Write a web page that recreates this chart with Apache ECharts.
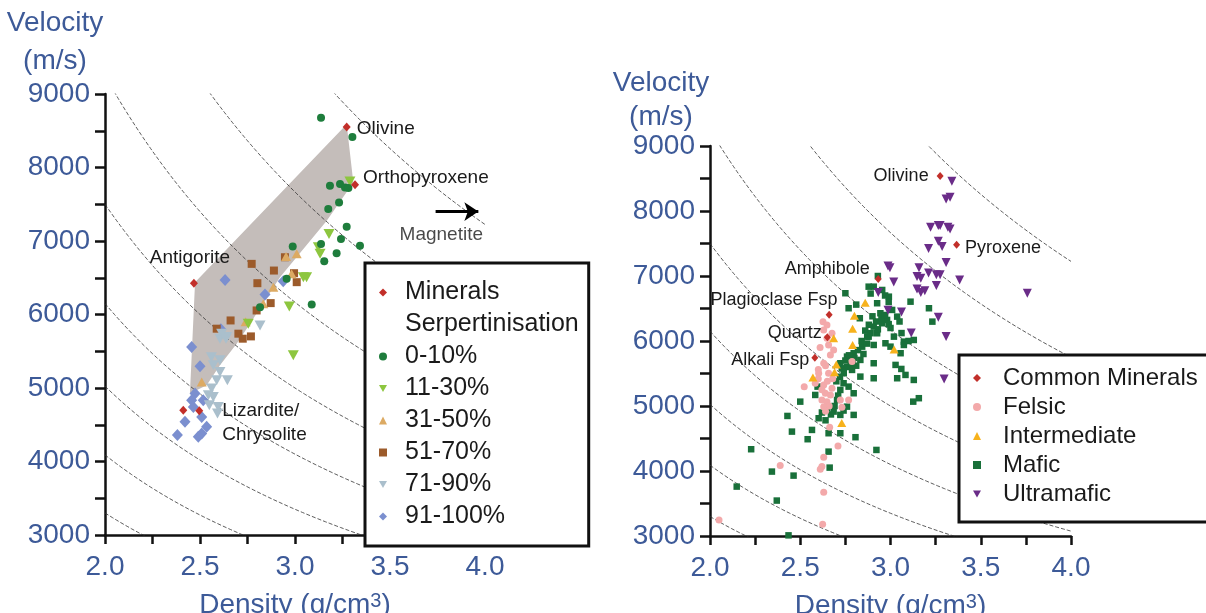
<!DOCTYPE html>
<html>
<head>
<meta charset="utf-8">
<title>Velocity vs density</title>
<script src="https://cdn.jsdelivr.net/npm/echarts@6/dist/echarts.min.js"></script>
<style>
  html, body { margin: 0; padding: 0; background: #fff; }
  #main { width: 1206px; height: 613px; }
</style>
</head>
<body>
<div id="main"></div>
<script>
// ---- data: [density g/cm3, velocity m/s] ----
const contourZ = [6600, 8180, 10050, 12300, 15000, 18500, 23000, 28900];

const leftMineralNames = ["Olivine", "Orthopyroxene", "Antigorite", "", "Lizardite/\nChrysolite"];
const leftMinerals = [[3.272, 8552], [3.316, 7765], [2.468, 6426], [2.412, 4698], [2.496, 4689]];

const serpPolygon = [[3.272, 8589], [3.307, 7796], [3.167, 7276], [2.921, 6506], [2.763, 5874],
  [2.693, 5602], [2.605, 5308], [2.535, 5036], [2.447, 4924], [2.474, 6439]];

const serp0to10 = [[3.137, 8678], [3.302, 8416], [3.184, 7752], [3.237, 7775], [3.263, 7729],
  [3.281, 7720], [3.232, 7525], [3.175, 7435], [3.272, 7195], [3.242, 7028], [3.342, 6937],
  [3.137, 6960], [3.219, 6833], [3.154, 6724], [2.988, 6924], [2.956, 6485], [2.816, 6100],
  [3.088, 6137]];
const serp11to30 = [[3.289, 7810], [3.179, 7096], [3.123, 6915], [3.132, 6825], [3.044, 6507],
  [3.061, 6507], [2.97, 6110], [2.754, 5875], [2.991, 5445]];
const serp31to50 = [[2.953, 6788], [3.009, 6825], [2.982, 6553], [2.886, 6372], [2.833, 6146],
  [2.509, 5082], [2.74, 5900]];
const serp51to70 = [[2.772, 6689], [2.889, 6598], [2.802, 6426], [2.947, 6779], [2.995, 6562],
  [3.009, 6440], [2.872, 6155], [2.798, 6055], [2.661, 5919], [2.588, 5807], [2.702, 5739],
  [2.725, 5671], [2.768, 5702]];
const serp71to90 = [[2.816, 5852], [2.605, 5671], [2.64, 5693], [2.614, 5739], [2.637, 5671],
  [2.57, 5309], [2.605, 5218], [2.644, 5105], [2.588, 5105], [2.561, 4993], [2.544, 4902],
  [2.57, 4879], [2.549, 4766], [2.596, 4743], [2.592, 4653], [2.605, 5377], [2.56, 5420]];
const serp91to100 = [[2.632, 6471], [2.842, 6272], [2.938, 6453], [2.456, 5557], [2.5, 5295],
  [2.474, 4925], [2.517, 4834], [2.465, 4743], [2.509, 4607], [2.421, 4540], [2.535, 4472],
  [2.509, 4382], [2.491, 4336], [2.381, 4359], [2.456, 4834], [2.61, 5800]];

const magnetiteText = [[3.77, 7080]];
const magnetiteArrow = [[3.74, 7400], [3.965, 7400]];

const rightMineralNames = ["Olivine", "Pyroxene", "Amphibole", "Plagioclase Fsp", "Quartz", "Alkali Fsp"];
const rightMinerals = [[3.275, 8538], [3.366, 7480], [2.932, 6953], [2.66, 6404], [2.65, 6057], [2.581, 5742]];

const felsic = [[2.626, 6298], [2.648, 6247], [2.63, 6170], [2.676, 6119], [2.648, 6042],
  [2.657, 5939], [2.685, 5862], [2.667, 5785], [2.63, 5658], [2.602, 5504], [2.657, 5504],
  [2.583, 5350], [2.63, 5324], [2.676, 5273], [2.639, 5196], [2.667, 5170], [2.62, 5093],
  [2.648, 5067], [2.63, 4990], [2.522, 5298], [2.787, 5683], [2.722, 5093], [2.768, 5093],
  [2.731, 4981], [2.663, 4674], [2.709, 4386], [2.63, 4212], [2.62, 4068], [2.611, 4028],
  [2.389, 4083], [2.63, 3674], [2.05, 3248], [2.624, 3182], [2.61, 5900], [2.64, 5620],
  [2.6, 5420], [2.65, 5380], [2.62, 5250], [2.66, 5000], [2.64, 4920], [2.6, 5560], [2.68, 5420]];

const intermediate = [[2.86, 6590], [2.80, 6390], [2.79, 6190], [2.685, 6042], [2.79, 5940],
  [3.02, 5870], [2.70, 5640], [2.57, 5440], [2.73, 4740], [2.69, 5520]];

const mafic = [[2.93, 7000], [2.75, 6735], [2.879, 6836], [2.907, 6836], [2.954, 6785],
  [2.991, 6682], [2.768, 6504], [2.926, 6581], [2.944, 6427], [3.009, 6478], [2.907, 6221],
  [2.954, 6273], [2.981, 6324], [3.037, 6375], [2.879, 6067], [2.926, 6119], [3.019, 6067],
  [3.074, 5990], [3.111, 6605], [3.213, 6504], [3.232, 6298], [2.843, 5913], [2.871, 6067],
  [2.907, 5939], [2.972, 5965], [3.0, 5913], [3.074, 5939], [3.056, 5812], [3.129, 6016],
  [3.028, 5632], [3.083, 5478], [3.129, 5401], [3.037, 5427], [2.907, 5658], [2.907, 5427],
  [2.833, 5452], [2.787, 5555], [2.759, 5760], [2.796, 5812], [2.833, 5709], [2.722, 5658],
  [2.741, 5504], [2.768, 5298], [2.796, 5196], [2.722, 5247], [2.704, 5093], [2.759, 4990],
  [2.796, 4863], [2.722, 4863], [2.685, 4914], [2.648, 4966], [2.602, 4812], [2.583, 5170],
  [2.596, 5298], [2.5, 5067], [2.429, 4847], [2.454, 4606], [2.541, 4489], [2.565, 4632],
  [2.657, 4581], [2.722, 4581], [2.806, 4520], [2.922, 4324], [2.657, 4298], [2.663, 4052],
  [2.228, 4335], [1.985, 3929], [2.343, 3991], [2.463, 3929], [2.148, 3760], [2.37, 3545],
  [2.435, 3010], [3.126, 5067], [3.157, 5120], [3.061, 6122],
  [2.90, 6380], [2.92, 6300], [2.95, 6350], [2.97, 6400], [2.99, 6260], [2.88, 6250],
  [2.86, 6160], [2.89, 6120], [2.84, 6000], [2.82, 5860], [2.80, 5740], [2.78, 5650],
  [2.76, 5600], [2.81, 5620], [2.79, 5700], [2.77, 5780], [2.75, 5700], [2.73, 5580],
  [2.72, 5450], [2.70, 5380], [2.74, 5350], [2.71, 5160], [2.69, 5000], [2.74, 4930],
  [2.67, 4870], [2.62, 4900], [2.64, 4780], [2.93, 6180], [3.00, 6200], [3.05, 6300],
  [2.87, 5960], [2.85, 5800], [3.10, 6000], [2.83, 6350], [2.81, 6560], [3.06, 5570],
  [2.97, 6700], [2.89, 6730], [2.99, 6600]];

const ultramafic = [[3.34, 8457], [3.308, 8186], [3.33, 8213], [3.222, 7751], [3.265, 7778],
  [3.275, 7778], [3.318, 7751], [3.33, 7724], [3.211, 7425], [3.265, 7534], [3.286, 7452],
  [3.308, 7208], [2.986, 7154], [2.997, 7127], [3.158, 7127], [3.147, 6991], [3.168, 6964],
  [3.211, 7045], [3.254, 7018], [3.275, 7018], [3.254, 6855], [3.383, 6937], [3.147, 6801],
  [3.168, 6747], [3.19, 6774], [2.932, 6747], [3.018, 6909], [2.986, 6475], [3.061, 6448],
  [3.265, 6367], [3.115, 6122], [3.308, 6068], [3.758, 6736], [3.297, 5416]];

// ---- chart ----
const FONT = "'Liberation Sans', Arial, sans-serif";
const BLUE = "#3d5a98";
const INK = "#111";
const DOWN_TRIANGLE = "path://M0,0L10,0L5,9Z";

let dom = document.getElementById("main");
let myChart = echarts.init(dom, null, { renderer: "canvas" });

function curvePoints(z) {
  // iso-impedance line: velocity = z / density
  let pts = [];
  for (let i = 0; i <= 200; i++) {
    let r = 2 + i * 0.01;
    pts.push([r, z / r]);
  }
  return pts;
}

function contourSeries(gi) {
  return contourZ.map(z => ({
    type: "line",
    xAxisIndex: gi,
    yAxisIndex: gi,
    data: curvePoints(z),
    symbol: "none",
    silent: true,
    z: 2,
    lineStyle: { color: "#333", width: 0.8, type: [4, 2] },
  }));
}

function xAxisCfg(gi) {
  return {
    type: "value",
    gridIndex: gi,
    min: 2,
    max: 4,
    interval: 0.25,
    name: "Density (g/cm{sup|3})",
    nameLocation: "middle",
    nameGap: 56,
    nameTextStyle: {
      color: BLUE, fontSize: 28, fontFamily: FONT,
      rich: { sup: { color: BLUE, fontSize: 20, fontFamily: FONT, verticalAlign: "top", lineHeight: 20 } },
    },
    axisLine: { onZero: false, lineStyle: { color: INK, width: 2.5 } },
    axisTick: { inside: false, length: 9, lineStyle: { color: INK, width: 2.5 } },
    axisLabel: {
      color: BLUE, fontSize: 28, fontFamily: FONT, margin: 18,
      formatter: v => (Math.round(v * 100) % 50 === 0 ? v.toFixed(1) : ""),
    },
    splitLine: { show: false },
  };
}

function yAxisCfg(gi) {
  return {
    type: "value",
    gridIndex: gi,
    min: 3000,
    max: 9000,
    interval: 500,
    axisLine: { show: true, onZero: false, lineStyle: { color: INK, width: 2.5 } },
    axisTick: { show: true, inside: false, length: 10, lineStyle: { color: INK, width: 2.5 } },
    axisLabel: {
      color: BLUE, fontSize: 28, fontFamily: FONT, margin: 15,
      formatter: v => (v % 1000 === 0 ? String(v) : ""),
    },
    splitLine: { show: false },
  };
}

function scatter(name, gi, data, symbol, size, color, rotate, z) {
  return {
    name: name,
    type: "scatter",
    xAxisIndex: gi,
    yAxisIndex: gi,
    data: data,
    symbol: symbol,
    symbolSize: size,
    symbolRotate: rotate || 0,
    itemStyle: { color: color, opacity: 1 },
    z: z || 3,
  };
}

const labelBase = { show: true, color: "#1a1a1a", fontFamily: FONT, formatter: "{b}" };
const leftLabelLayout = [
  { position: "right", distance: 6, offset: [0, 2], fontSize: 19 },
  { position: "right", distance: 4, offset: [0, -7], fontSize: 19 },
  { position: "top", distance: 11, offset: [-4, 0], fontSize: 19 },
  { show: false },
  { position: "right", distance: 19, offset: [0, 12], fontSize: 19, lineHeight: 24, align: "left" },
];
const rightLabelLayout = [
  { position: "left", distance: 8, offset: [0, 0], fontSize: 18 },
  { position: "right", distance: 5, offset: [0, 3], fontSize: 18 },
  { position: "left", distance: 5, offset: [0, -10], fontSize: 18 },
  { position: "left", distance: 0, offset: [12, -15], fontSize: 18 },
  { position: "left", distance: 2, offset: [0, -4], fontSize: 18 },
  { position: "left", distance: 2, offset: [0, 2], fontSize: 18 },
];

function labelled(points, names, layout) {
  return points.map((p, i) => ({
    value: p,
    name: names[i],
    label: Object.assign({}, labelBase, layout[i]),
  }));
}

let option = {
  animation: false,
  title: [
    {
      text: "Velocity\n(m/s)", left: 55, top: 4, padding: 0, textAlign: "center",
      textStyle: { color: BLUE, fontSize: 28, fontWeight: "normal", fontFamily: FONT, lineHeight: 38 },
    },
    {
      text: "Velocity\n(m/s)", left: 661, top: 66, padding: 0, textAlign: "center",
      textStyle: { color: BLUE, fontSize: 28, fontWeight: "normal", fontFamily: FONT, lineHeight: 34 },
    },
  ],
  grid: [
    { left: 105, top: 94, width: 380, height: 441, outerBoundsMode: "none", containLabel: false },
    { left: 710, top: 146, width: 361, height: 390, outerBoundsMode: "none", containLabel: false },
  ],
  xAxis: [xAxisCfg(0), xAxisCfg(1)],
  yAxis: [yAxisCfg(0), yAxisCfg(1)],
  legend: [
    {
      orient: "vertical",
      left: 365,
      top: 263,
      padding: [17, 10, 17, 14],
      itemWidth: 8,
      itemHeight: 8,
      itemGap: 7,
      borderColor: INK,
      borderWidth: 3,
      backgroundColor: "#fff",
      selectedMode: false,
      textStyle: { fontSize: 25, color: "#1a1a1a", fontFamily: FONT, padding: [0, 0, 0, 13] },
      data: ["Minerals", "Serpertinisation", "0-10%",
        { name: "11-30%", icon: DOWN_TRIANGLE }, "31-50%", "51-70%",
        { name: "71-90%", icon: DOWN_TRIANGLE }, "91-100%"],
    },
    {
      orient: "vertical",
      left: 959,
      top: 355,
      padding: [11, 16, 16, 14],
      itemWidth: 8,
      itemHeight: 8,
      itemGap: 5,
      borderColor: INK,
      borderWidth: 3,
      backgroundColor: "#fff",
      selectedMode: false,
      textStyle: { fontSize: 24, color: "#1a1a1a", fontFamily: FONT, padding: [0, 0, 0, 17] },
      data: ["Common Minerals", "Felsic", "Intermediate", "Mafic",
        { name: "Ultramafic", icon: DOWN_TRIANGLE }],
    },
  ],
  series: [
    {
      type: "custom",
      xAxisIndex: 0,
      yAxisIndex: 0,
      silent: true,
      z: 1,
      data: [serpPolygon[0]],
      renderItem: function (params, api) {
        return {
          type: "polygon",
          shape: { points: serpPolygon.map(p => api.coord(p)) },
          style: { fill: "#c4bdba" },
        };
      },
    },
    ...contourSeries(0),
    ...contourSeries(1),
    // left panel
    scatter("91-100%", 0, serp91to100, "diamond", [11, 12], "#7b8fcf"),
    scatter("51-70%", 0, serp51to70, "rect", 8, "#9c5b2b"),
    scatter("31-50%", 0, serp31to50, "triangle", [10, 9], "#dcaa63"),
    scatter("71-90%", 0, serp71to90, "triangle", [11, 10], "#aabfcc", 180),
    scatter("11-30%", 0, serp11to30, "triangle", [11, 10], "#8dc63f", 180),
    scatter("0-10%", 0, serp0to10, "circle", 8, "#1e7d3c"),
    scatter("Serpertinisation", 0, [], "circle", 8, "rgba(0,0,0,0)"),
    scatter("Minerals", 0, labelled(leftMinerals, leftMineralNames, leftLabelLayout), "diamond", [8, 9], "#c22f2a", 0, 4),
    {
      type: "scatter",
      xAxisIndex: 0,
      yAxisIndex: 0,
      silent: true,
      symbolSize: 1,
      itemStyle: { color: "rgba(0,0,0,0)" },
      z: 4,
      data: magnetiteText.map(p => ({ value: p, name: "Magnetite" })),
      label: { show: true, position: "inside", color: "#1a1a1a", fontFamily: FONT, fontSize: 19, formatter: "{b}" },
      markLine: {
        silent: true,
        symbol: ["none", "arrow"],
        symbolSize: 14,
        label: { show: false },
        lineStyle: { color: "#000", width: 3, type: "solid", opacity: 1 },
        data: [[{ coord: magnetiteArrow[0] }, { coord: magnetiteArrow[1] }]],
      },
    },
    // right panel
    scatter("Mafic", 1, mafic, "rect", 6.5, "#19703a"),
    scatter("Felsic", 1, felsic, "circle", 7, "#f3a9aa"),
    scatter("Intermediate", 1, intermediate, "triangle", [9, 8], "#f7b21c"),
    scatter("Ultramafic", 1, ultramafic, "triangle", [9, 9], "#6a2c88", 180),
    scatter("Common Minerals", 1, labelled(rightMinerals, rightMineralNames, rightLabelLayout), "diamond", [7, 8], "#c22f2a", 0, 4),
  ],
};

if (option && typeof option === "object") {
  myChart.setOption(option);
}

window.addEventListener("resize", myChart.resize);
</script>
</body>
</html>
